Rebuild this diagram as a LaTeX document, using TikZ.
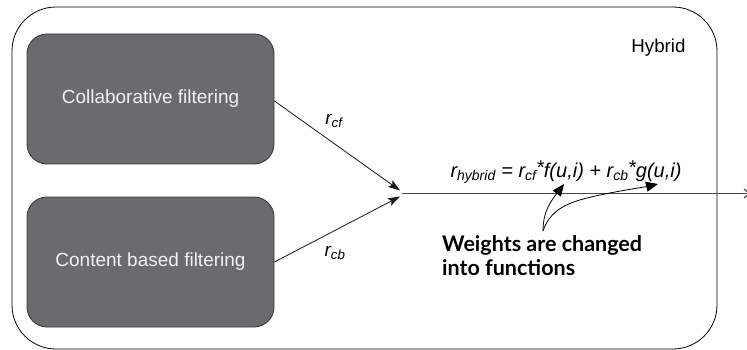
\documentclass[tikz,border=0pt]{standalone}
\usepackage{fontspec}
\setmainfont{Liberation Sans}
\newfontfamily\notefont{Lato}
\usetikzlibrary{arrows.meta}
\definecolor{boxgray}{HTML}{6B6B6F}
\definecolor{boxedge}{HTML}{3A3A3C}
\definecolor{linegray}{HTML}{4A4A4A}
\tikzset{
  methodbox/.style={draw=boxedge, line width=0.9pt, fill=boxgray, rounded corners=20pt,
    minimum width=247pt, minimum height=130pt, inner sep=0pt, text=white!95!black,
    font=\fontsize{19}{22}\selectfont},
  outerbox/.style={draw=black, line width=0.8pt, rounded corners=44pt,
    minimum width=705pt, minimum height=342pt, inner sep=0pt},
  inarrow/.style={draw=black!90, line width=0.8pt, -{Stealth[length=12pt,width=8pt,inset=2.5pt]}},
  notearrow/.style={draw=black, line width=0.8pt, -{Triangle[length=12pt,width=10pt]}},
  mainline/.style={draw=linegray, line width=1.2pt, -{Straight Barb[length=5pt,width=9pt]}},
  lbl/.style={inner sep=0pt, font=\fontsize{19}{22}\selectfont\itshape},
}
\begin{document}
\begin{tikzpicture}[x=1pt,y=-1pt]
\useasboundingbox (0,0) rectangle (747,350);
\clip (0,0) rectangle (747,350);

\node[outerbox] (hybrid) at (364.5,178) {};
\node[inner sep=0pt, font=\fontsize{18.7}{22}\selectfont] (hlabel) at (658.5,48) {Hybrid};

\node[methodbox] (cf) at (150.5,99) {Collaborative filtering};
\node[methodbox] (cb) at (150.5,262) {Content based filtering};

\coordinate (merge) at (402,193.5);
\coordinate (mtop) at (400,190.5);
\coordinate (mbot) at (400,196.5);
\coordinate (out) at (750,193.5);

\draw[inarrow] (cf.east |- 0,101) -- (mtop);
\draw[inarrow] (cb.east |- 0,262) -- (mbot);
\draw[mainline] (merge) -- (out);

\node[lbl] (rcf) at (334,121) {r\textsubscript{cf}};
\node[lbl] (rcb) at (335,253) {r\textsubscript{cb}};

\node[inner sep=0pt, anchor=base, font=\fontsize{20}{24}\selectfont\itshape] (formula) at (566,177)
  {r\textsubscript{hybrid} = r\textsubscript{cf}\kern-0.5pt\raisebox{2pt}{*}f(u,i) + r\textsubscript{cb}\kern-0.5pt\raisebox{2pt}{*}g(u,i)};

\node[inner sep=0pt, anchor=north west, align=left,
      font=\fontsize{21.5}{24}\selectfont\notefont\bfseries] (note) at (442,235)
  {Weights are changed\\into functions};

\coordinate (noteorigin) at (543,231);
\coordinate (tipf) at (564,184);
\coordinate (tipg) at (658,184);
\draw[notearrow] (noteorigin) .. controls (543,210) and (552,200) .. (tipf);
\draw[notearrow] (noteorigin) .. controls (552,205) and (575,200) .. (610,193) .. controls (630,189) and (645,187) .. (tipg);
\end{tikzpicture}
\end{document}
